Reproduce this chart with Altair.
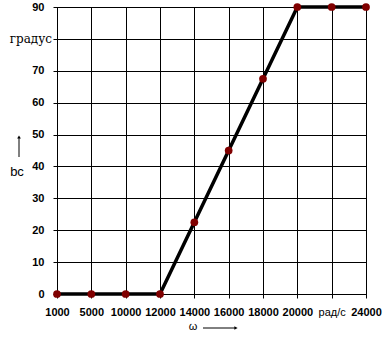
import altair as alt
import pandas as pd

x_labels = ["1000", "5000", "10000", "12000", "14000", "16000", "18000", "20000", "рад/с", "24000"]
angles = [0, 0, 0, 0, 22.5, 45, 67.5, 90, 90, 90]
y_ticks = [0, 10, 20, 30, 40, 50, 60, 70, 80, 90]

df = pd.DataFrame({"w": x_labels, "bc": angles})

W, H = 309, 287

xaxis = alt.Axis(title=None, labelAngle=0, grid=True, gridColor="black", gridOpacity=1,
                 gridWidth=1, domainColor="black", tickColor="black", tickSize=4,
                 labelPadding=8, labelColor="black", labelOverlap=False,
                 labelFont="Liberation Sans", labelFontSize=11,
                 labelFontWeight=alt.condition("datum.value == 'рад/с'", alt.value("normal"), alt.value("bold")))
yaxis = alt.Axis(title=None, values=y_ticks, grid=True, gridColor="black", gridOpacity=1,
                 gridWidth=1, domainColor="black", tickColor="black", tickSize=4,
                 labelPadding=9, labelColor="black", labelFont="Liberation Sans",
                 labelFontSize=11, labelFontWeight="bold", labelOverlap=False,
                 labelExpr="datum.value == 80 ? '' : datum.label")
yscale = alt.Scale(domain=[0, 90], nice=False, zero=True)

xenc = alt.X("w:O", sort=x_labels, scale=alt.Scale(type="point", padding=0), axis=xaxis)
yenc = alt.Y("bc:Q", scale=yscale, axis=yaxis)

base = alt.Chart(df)
line = base.mark_line(color="black", strokeWidth=3.5).encode(x=xenc, y=yenc)
pts = base.mark_point(filled=True, color="#800000", opacity=1, size=60).encode(x=xenc, y=yenc)

deg = alt.Chart(pd.DataFrame({"t": ["градус"]})).mark_text(
    align="right", baseline="middle", font="DejaVu Serif", fontSize=12, color="black"
).encode(text="t:N", x=alt.value(-5), y=alt.YDatum(80, type="quantitative", scale=yscale, axis=yaxis))

bc = alt.Chart(pd.DataFrame({"t": ["bc"]})).mark_text(
    align="center", baseline="middle", font="Liberation Sans", fontSize=13, color="black"
).encode(text="t:N", x=alt.value(-40), y=alt.value(165))
bc_shaft = alt.Chart(pd.DataFrame({"a": [0]})).mark_rule(color="black", strokeWidth=1).encode(
    x=alt.value(-38), y=alt.value(131), y2=alt.value(150))
bc_head = alt.Chart(pd.DataFrame({"a": [0]})).mark_point(
    shape="triangle-up", filled=True, color="black", opacity=1, size=14).encode(
    x=alt.value(-38), y=alt.value(130))

om = alt.Chart(pd.DataFrame({"t": ["ω"]})).mark_text(
    align="center", baseline="middle", font="Liberation Sans", fontSize=11, color="black"
).encode(text="t:N", x=alt.value(136), y=alt.value(320))
om_shaft = alt.Chart(pd.DataFrame({"a": [0]})).mark_rule(color="black", strokeWidth=1).encode(
    x=alt.value(146), x2=alt.value(178), y=alt.value(321))
om_head = alt.Chart(pd.DataFrame({"a": [0]})).mark_point(
    shape="triangle-right", filled=True, color="black", opacity=1, size=14).encode(
    x=alt.value(179), y=alt.value(321))

chart = alt.layer(line, pts, deg, bc, bc_shaft, bc_head, om, om_shaft, om_head).properties(
    width=W, height=H,
    autosize=alt.AutoSizeParams(type="none"),
    padding={"left": 57, "top": 7, "right": 18, "bottom": 43},
    background="white",
).configure_view(stroke="black", strokeWidth=1)

chart.save("out.html", embed_options={"renderer": "svg", "actions": False})
